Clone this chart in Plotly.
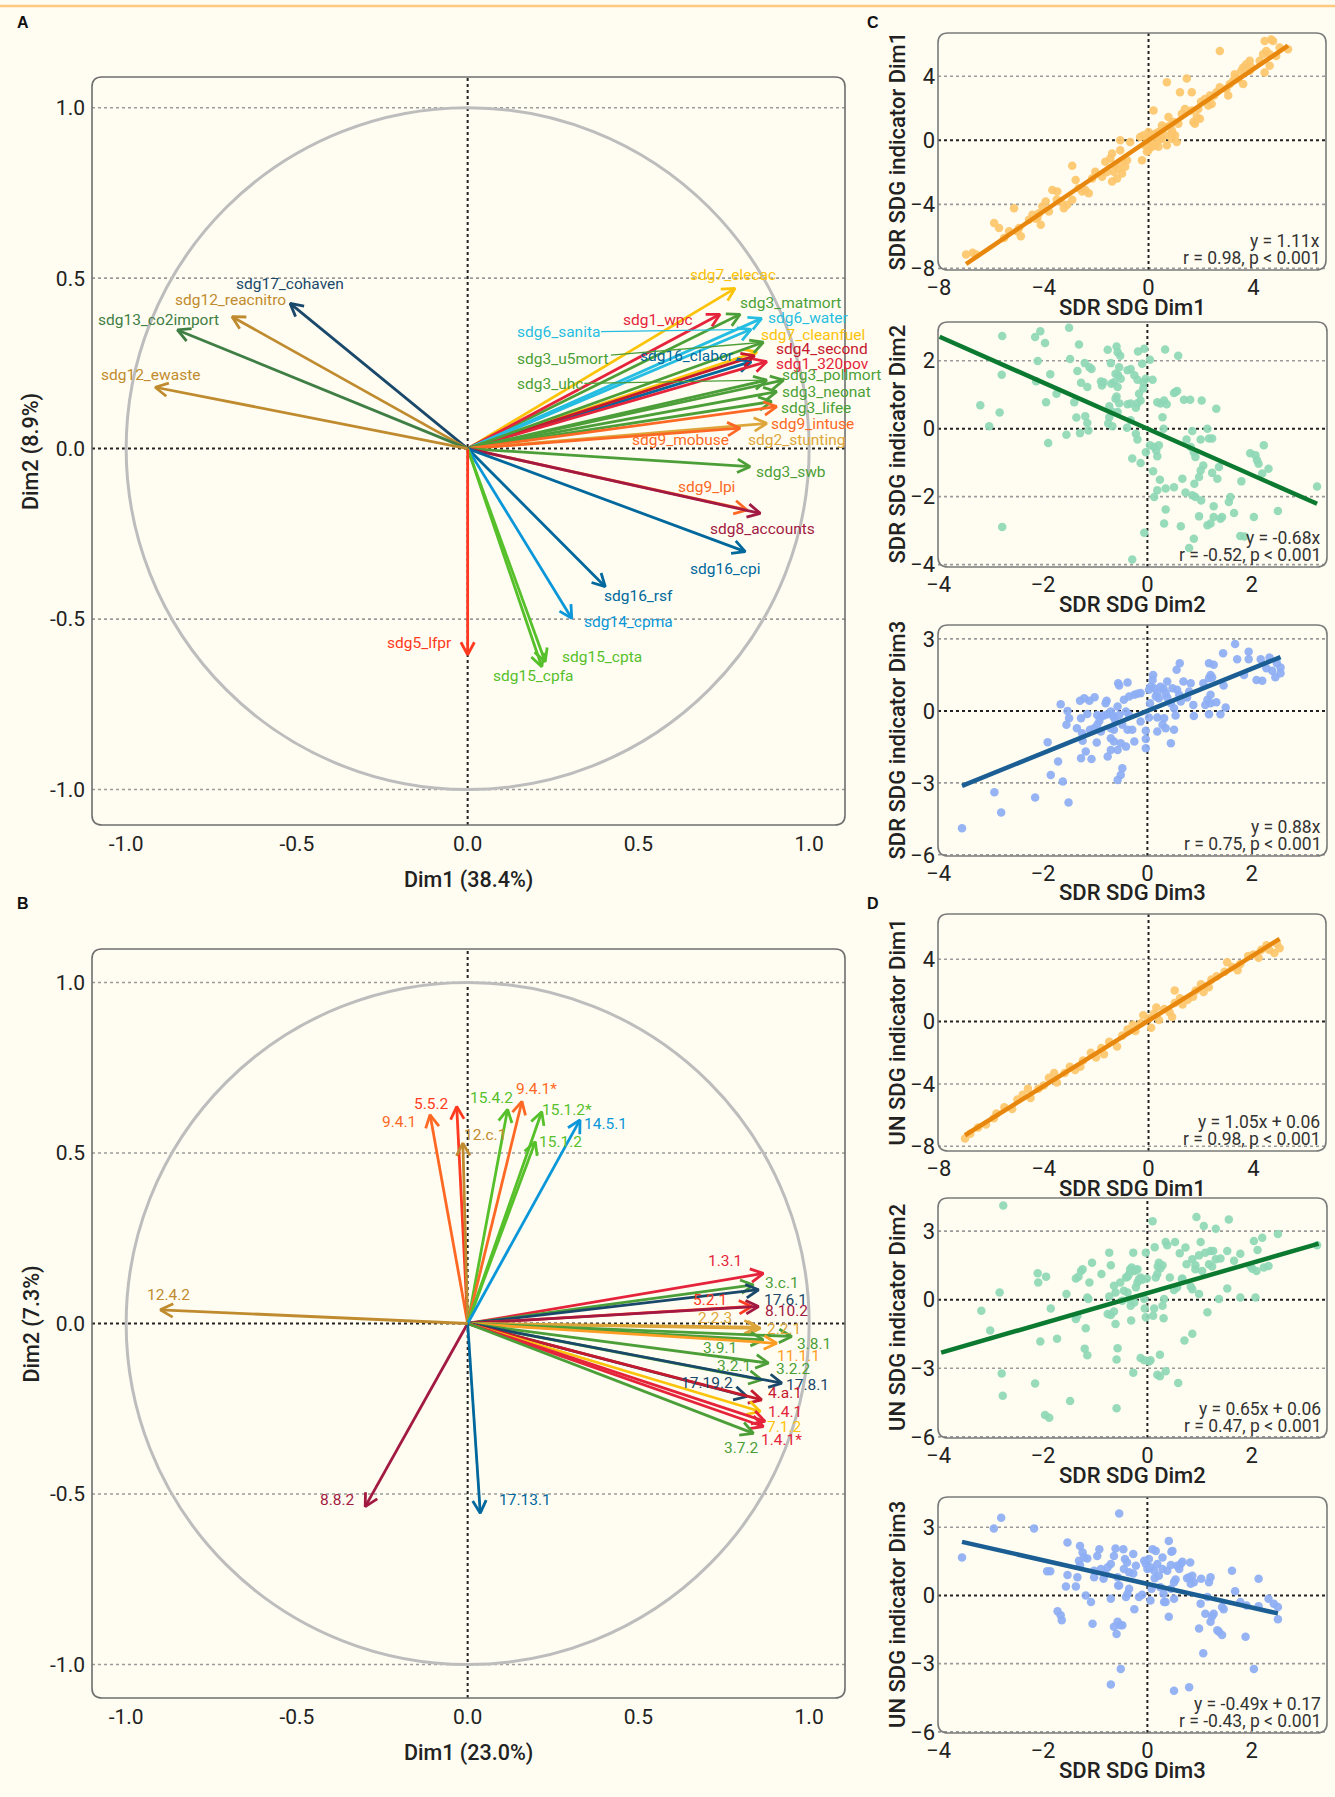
import numpy as np
import plotly.graph_objects as go

W, H = 1335, 1797
BG = "#FFFDF1"
FONT = "Roboto, 'Open Sans', sans-serif"

SDG_COLORS = {1: "#E5243B", 2: "#DDA63A", 3: "#4C9F38", 4: "#C5192D", 5: "#FF3A21",
              6: "#26BDE2", 7: "#FCC30B", 8: "#A21942", 9: "#FD6925", 11: "#FD9D24",
              12: "#BF8B2E", 13: "#3F7E44", 14: "#0A97D9", 15: "#56C02B", 16: "#00689D",
              17: "#19486A"}

# ---------------- Panel A: SDR indicators, correlation circle ----------------
a_names = ["sdg7_elecac", "sdg3_matmort", "sdg1_wpc", "sdg6_water", "sdg6_sanita",
           "sdg7_cleanfuel", "sdg16_clabor", "sdg4_second", "sdg1_320pov", "sdg3_u5mort",
           "sdg3_uhc", "sdg3_pollmort", "sdg3_neonat", "sdg3_lifee", "sdg9_intuse",
           "sdg2_stunting", "sdg9_mobuse", "sdg3_swb", "sdg9_lpi", "sdg8_accounts",
           "sdg16_cpi", "sdg16_rsf", "sdg14_cpma", "sdg15_cpta", "sdg15_cpfa",
           "sdg5_lfpr", "sdg17_cohaven", "sdg12_reacnitro", "sdg13_co2import", "sdg12_ewaste"]
a_dim1 = [0.783, 0.798, 0.739, 0.861, 0.830, 0.847, 0.830, 0.840, 0.876, 0.866,
          0.876, 0.925, 0.905, 0.890, 0.905, 0.876, 0.798, 0.827, 0.818, 0.857,
          0.813, 0.403, 0.305, 0.227, 0.217, 0.000, -0.520, -0.690, -0.850, -0.915]
a_dim2 = [0.470, 0.394, 0.394, 0.382, 0.350, 0.284, 0.255, 0.272, 0.255, 0.312,
          0.201, 0.201, 0.167, 0.138, 0.123, 0.074, 0.060, -0.053, -0.180, -0.190,
          -0.302, -0.405, -0.498, -0.625, -0.640, -0.605, 0.426, 0.387, 0.348, 0.180]
a_goal = [7, 3, 1, 6, 6, 7, 16, 4, 1, 3, 3, 3, 3, 3, 9, 2, 9, 3, 9, 8, 16, 16, 14, 15, 15,
          5, 17, 12, 13, 12]

# ---------------- Panel B: UN indicators, correlation circle ----------------
b_names = ["1.3.1", "3.c.1", "17.6.1", "5.2.1", "8.10.2", "2.2.3", "2.2.1", "3.8.1",
           "3.9.1", "11.1.1", "3.2.1", "3.2.2", "17.8.1", "17.19.2", "4.a.1", "7.1.2",
           "1.4.1", "1.4.1*", "3.7.2", "9.4.1", "5.5.2", "12.c.1", "15.4.2", "9.4.1*",
           "15.1.2*", "15.1.2", "14.5.1", "8.8.2", "17.13.1", "12.4.2"]
b_dim1 = [0.866, 0.837, 0.852, 0.832, 0.852, 0.847, 0.857, 0.949, 0.866, 0.905,
          0.881, 0.861, 0.920, 0.818, 0.861, 0.857, 0.871, 0.866, 0.837, -0.110,
          -0.032, -0.014, 0.117, 0.159, 0.217, 0.198, 0.329, -0.300, 0.037, -0.900]
b_dim2 = [0.147, 0.113, 0.099, 0.050, 0.050, -0.011, -0.014, -0.038, -0.048, -0.058,
          -0.116, -0.165, -0.175, -0.214, -0.224, -0.258, -0.287, -0.302, -0.322, 0.612,
          0.636, 0.529, 0.628, 0.651, 0.621, 0.533, 0.597, -0.537, -0.556, 0.040]
b_goal = [1, 3, 17, 5, 8, 2, 2, 3, 3, 11, 3, 3, 17, 17, 4, 7, 1, 1, 3, 9, 5, 12, 15, 9,
          15, 15, 14, 8, 16, 12]

# label placement: (dx px, dy px up, anchor) or ("leader", ax, ay)
a_label_pos = {
    "sdg7_elecac": (-2, 13, "center"), "sdg3_matmort": (-2, 11, "left"),
    "sdg1_wpc": (-25, -6, "right"), "sdg6_water": (4, 0, "left"),
    "sdg6_sanita": ("leader", -193, 3), "sdg7_cleanfuel": (2, 17, "left"),
    "sdg16_clabor": ("leader", -64, -6), "sdg4_second": (19, 7, "left"),
    "sdg1_320pov": (7, -2, "left"), "sdg3_u5mort": ("leader", -200, 17),
    "sdg3_uhc": ("leader", -217, 4), "sdg3_pollmort": (-4, 5, "left"),
    "sdg3_neonat": (3, 0, "left"), "sdg3_lifee": (7, -6, "left"),
    "sdg9_intuse": (-8, -17, "left"), "sdg2_stunting": (-21, -17, "left"),
    "sdg9_mobuse": (-9, -12, "right"), "sdg3_swb": (4, -5, "left"),
    "sdg9_lpi": (-40, 23, "center"), "sdg8_accounts": (2, -16, "center"),
    "sdg16_cpi": (-20, -17, "center"), "sdg16_rsf": (33, -9, "center"),
    "sdg14_cpma": (10, -4, "left"), "sdg15_cpta": (15, 5, "left"),
    "sdg15_cpfa": (-8, -9, "center"), "sdg5_lfpr": (-14, 12, "right"),
    "sdg17_cohaven": (0, 19, "center"), "sdg12_reacnitro": (-2, 17, "center"),
    "sdg13_co2import": (-19, 10, "center"), "sdg12_ewaste": (-5, 12, "center"),
}
b_label_pos = {
    "1.3.1": (-38, 12, "center"), "3.c.1": (10, 2, "left"), "17.6.1": (3, -10, "left"),
    "5.2.1": (-42, 6, "center"), "8.10.2": (4, -5, "left"), "2.2.3": (-42, 9, "center"),
    "2.2.1": (5, -1, "left"), "3.8.1": (3, -8, "left"), "3.9.1": (-43, -8, "center"),
    "11.1.1": (-2, -13, "left"), "3.2.1": (-35, -3, "center"), "3.2.2": (12, 11, "left"),
    "17.8.1": (2, -2, "left"), "17.19.2": (-40, 13, "center"), "4.a.1": (4, 7, "left"),
    "7.1.2": (5, -15, "left"), "1.4.1": (1, 9, "left"), "1.4.1*": (-4, -13, "left"),
    "3.7.2": (-12, -15, "center"), "9.4.1": (-12, -7, "right"), "5.5.2": (-6, 3, "right"),
    "12.c.1": (-1, 8, "left"), "15.4.2": (-16, 11, "center"), "9.4.1*": (15, 12, "center"),
    "15.1.2*": (-2, 2, "left"), "15.1.2": (2, 0, "left"), "14.5.1": (2, -4, "left"),
    "8.8.2": (-8, 7, "right"), "17.13.1": (17, 13, "left"), "12.4.2": (8, 15, "center"),
}

# ---------------- Panels C / D: scatter data ----------------
c1_points = [(4.43,6.20),(4.68,6.30),(4.75,6.20),(5.32,5.68),(5.00,5.79),(4.49,5.58),(4.37,5.37),(4.62,5.37),(4.87,5.27),(2.72,5.58),
 (4.24,4.96),(4.62,4.65),(4.43,4.24),(3.86,4.96),(3.73,4.75),(3.61,4.55),(3.54,4.34),(3.86,4.34),(3.29,4.13),(3.42,3.82),
 (3.23,3.72),(3.10,3.51),(3.61,3.51),(2.97,3.20),(2.72,3.31),(2.59,3.00),(3.04,2.79),(2.34,2.79),(2.15,2.58),(2.28,2.17),
 (2.41,2.27),(0.70,3.62),(1.46,3.86),(1.20,3.00),(1.65,3.00),(1.90,1.96),(1.65,1.86),(1.39,1.96),(1.27,1.65),(1.84,1.45),
 (1.96,1.34),(1.71,1.14),(1.77,1.03),(0.19,1.86),(0.76,1.45),(0.95,1.14),(1.14,1.03),(0.82,0.93),(0.63,0.83),(0.51,0.62),
 (0.38,0.52),(0.25,0.41),(0.13,0.31),(0.63,0.31),(0.89,0.41),(1.01,0.31),(1.08,-0.10),(0.89,0.10),(0.51,0.10),(0.38,0.00),
 (0.25,-0.31),(0.06,-0.10),(-0.06,0.10),(-0.19,0.31),(-0.32,0.21),(0.00,-0.62),(-0.25,-1.24),(-0.06,-0.72),(0.38,-0.41),(0.70,-0.31),
 (-1.08,0.00),(-0.70,-0.10),(-1.08,-0.62),(-1.39,-0.83),(-1.46,-1.14),(-1.65,-1.34),(-1.27,-1.55),(-1.33,-1.96),(-1.14,-1.76),(-1.01,-2.07),
 (-0.89,-1.65),(-0.82,-1.24),(-1.39,-2.58),(-1.20,-2.38),(-2.91,-1.59),(-2.78,-2.48),(-2.03,-1.96),(-1.77,-2.27),(-2.15,-2.38),(-2.66,-3.00),
 (-2.41,-3.10),(-2.53,-3.20),(-2.28,-3.31),(-2.91,-3.72),(-3.10,-4.03),(-3.23,-4.24),(-3.35,-3.82),(-3.67,-3.10),(-3.48,-3.20),(-3.92,-3.82),
 (-4.05,-4.13),(-3.80,-4.44),(-4.18,-4.55),(-4.24,-4.86),(-4.43,-4.65),(-4.56,-4.96),(-4.11,-5.27),(-5.13,-4.24),(-4.94,-5.48),(-4.87,-5.99),
 (-5.00,-5.68),(-5.32,-5.68),(-5.70,-5.48),(-5.89,-5.17),(-5.51,-6.10),(-6.71,-7.02),(-6.96,-7.13),(-6.58,-7.13),(-0.13,-0.31),(0.13,-0.41),
 (0.32,0.21),(0.00,0.52),(0.89,0.62),(0.51,0.93),(2.00,2.40),(2.50,2.80),(3.30,3.90),(3.90,4.60),(-1.00,-1.30),(-1.60,-2.00),
 (-3.50,-3.70),(-4.30,-4.90)]

c2_points = [(-1.50,2.97),(-2.05,2.87),(-2.15,2.70),(-1.96,2.52),(-2.78,2.73),(-1.31,2.48),(-2.10,1.99),(-1.48,2.05),(-2.79,1.59),(-1.86,1.60),
 (-2.13,1.40),(-1.74,1.03),(-1.94,0.78),(-3.20,0.69),(-2.83,0.48),(-3.03,0.07),(-1.90,-0.42),(-1.55,-0.18),(-1.36,0.33),(-1.19,0.37),
 (-1.15,0.17),(-1.13,-0.05),(-1.29,-0.13),(-1.40,0.78),(-1.20,1.93),(-1.11,1.81),(-1.07,1.76),(-1.34,1.70),(-1.27,1.35),(-1.15,1.23),
 (-0.89,1.39),(-0.87,1.27),(-0.84,1.37),(-0.76,2.32),(-0.59,2.42),(-0.57,2.25),(-0.52,2.15),(-0.70,1.93),(-0.54,1.81),(-0.38,1.72),
 (-0.32,1.76),(-0.25,1.57),(-0.19,1.44),(-0.56,1.57),(-0.61,1.62),(-0.64,1.37),(-0.69,1.32),(-0.57,1.23),(-0.51,1.47),(-0.59,0.95),
 (-0.54,0.75),(-0.38,0.72),(-0.32,0.74),(-0.22,0.62),(-0.19,0.75),(-0.13,0.83),(-0.16,1.03),(-0.08,1.18),(-0.08,1.37),(-0.03,1.47),
 (0.10,1.44),(-0.10,1.91),(0.05,2.03),(-0.18,2.27),(-0.06,2.35),(0.34,2.33),(0.59,2.15),(-0.61,0.88),(-0.73,0.66),(-0.67,0.49),
 (-0.57,0.49),(-0.73,0.34),(-0.75,0.15),(-0.67,0.07),(-0.39,0.03),(-0.32,0.25),(-0.22,-0.15),(-0.19,-0.32),(-0.29,-0.88),(-0.13,-1.01),
 (-0.03,-0.69),(0.05,-0.49),(0.13,-0.54),(0.17,-0.64),(0.22,-0.49),(0.19,-0.81),(0.11,-1.25),(0.24,-1.50),(0.19,-1.81),(0.13,-2.01),
 (0.35,-1.76),(0.51,-1.72),(0.54,1.08),(0.51,1.05),(0.57,1.11),(0.19,0.78),(0.25,0.74),(0.32,0.83),(0.37,0.72),(0.29,0.34),
 (0.31,0.00),(0.70,0.85),(0.82,0.85),(1.04,0.83),(1.32,0.59),(0.86,-0.07),(1.15,0.00),(1.02,-0.32),(1.18,-0.29),(1.24,-0.29),
 (0.75,-0.32),(0.83,-0.54),(0.89,-0.69),(0.92,-0.83),(1.07,-1.08),(1.02,-1.23),(0.99,-1.42),(1.24,-1.30),(1.34,-1.47),(1.37,-1.13),
 (0.67,-1.47),(0.73,-1.88),(0.86,-1.96),(0.92,-2.01),(1.03,-2.11),(0.90,-1.62),(1.27,-2.28),(1.59,-2.01),(1.56,-2.16),(1.66,-2.48),
 (1.27,-2.60),(1.21,-2.79),(1.40,-2.65),(1.43,-2.60),(1.15,-2.84),(0.99,-2.58),(0.64,-2.87),(0.32,-2.79),(0.35,-2.38),(0.89,-3.24),
 (0.80,-3.51),(-0.06,-3.06),(-0.29,-3.85),(1.80,-1.55),(1.97,-0.72),(2.07,-0.78),(2.10,-0.93),(2.13,-1.03),(2.23,-0.49),(2.32,-1.18),
 (2.20,-1.32),(2.04,-2.60),(2.50,-2.42),(3.25,-1.70),(1.78,-3.16),(1.86,-3.17),(-2.78,-2.89)]

c3_points = [(-3.55,-4.89),(-2.93,-3.39),(-2.80,-4.24),(-2.15,-3.61),(-1.51,-3.82),(-1.62,-2.94),(-1.85,-2.67),(-1.71,-2.11),(-1.91,-1.31),(-1.66,0.28),
 (-1.53,0.00),(-1.55,-0.58),(-1.50,-0.31),(-1.35,-0.72),(-1.29,0.42),(-1.21,0.53),(-1.11,0.42),(-1.01,0.57),(-1.25,-0.93),(-1.24,-1.25),
 (-1.18,-1.69),(-1.27,-1.97),(-1.07,-2.01),(-0.97,-1.32),(-1.15,-0.13),(-1.27,-0.31),(-1.10,-0.79),(-1.02,-0.72),(-0.96,-0.17),(-0.89,-0.24),
 (-0.83,-0.19),(-0.92,-0.42),(-0.96,-0.58),(-0.89,-0.86),(-0.78,0.42),(-0.80,0.32),(-0.70,-0.03),(-0.76,-0.14),(-0.67,-0.17),(-0.57,0.18),
 (-0.64,-0.28),(-0.54,-0.17),(-0.61,-0.44),(-0.70,-0.72),(-0.64,-0.79),(-0.48,-0.58),(-0.38,-0.79),(-0.29,-0.79),(-0.35,-0.17),(-0.41,-0.03),
 (-0.45,0.46),(-0.35,0.60),(-0.25,0.67),(-0.19,0.71),(-0.13,0.74),(-0.54,1.06),(-0.56,1.15),(-0.38,1.18),(-0.70,-1.14),(-0.64,-1.28),
 (-0.57,-1.63),(-0.70,-1.63),(-0.76,-1.90),(-0.51,-1.35),(-0.41,-1.49),(-0.25,-1.28),(-0.48,-2.39),(-0.51,-2.67),(-0.57,-2.88),(-0.13,-0.44),
 (-0.03,-0.83),(-0.03,-1.17),(-0.03,-1.56),(0.05,0.32),(0.03,-0.28),(0.11,1.50),(0.10,1.29),(0.06,1.01),(0.13,0.94),(0.03,0.88),
 (0.19,0.74),(0.22,0.53),(0.16,0.60),(0.25,1.01),(0.31,0.92),(0.38,1.22),(0.35,0.74),(0.38,0.56),(0.45,0.32),(0.51,0.11),
 (0.54,-0.19),(0.51,-0.79),(0.35,-0.72),(0.29,-0.58),(0.32,-0.31),(0.19,-0.28),(0.19,-0.86),(0.45,-1.35),(0.56,1.71),(0.62,1.99),
 (0.69,1.22),(0.57,0.88),(0.61,0.67),(0.48,0.94),(0.64,0.39),(0.83,1.15),(0.80,0.81),(0.76,0.56),(0.88,0.25),(0.89,-0.21),
 (1.07,1.15),(1.18,1.99),(1.27,1.92),(1.21,1.50),(1.18,1.36),(1.24,1.39),(1.21,0.67),(1.15,0.46),(1.11,0.25),(1.21,0.32),
 (1.32,0.36),(1.18,-0.14),(1.40,-0.14),(1.50,0.14),(1.46,1.06),(1.45,2.40),(1.68,2.79),(1.72,2.15),(1.94,2.47),(1.94,2.15),
 (1.85,1.50),(2.09,1.29),(2.20,1.26),(2.17,2.15),(2.28,1.78),(2.39,1.67),(2.45,1.40),(2.55,1.81),(2.55,1.57),(2.34,2.22),
 (2.48,1.99)]

d1_points = [(-7.00,-7.50),(-6.80,-7.20),(-6.50,-6.80),(-6.20,-6.60),(-5.80,-5.90),(-5.50,-5.50),(-5.20,-5.60),(-5.00,-5.00),(-4.80,-4.70),(-4.50,-4.90),
 (-4.20,-4.30),(-4.00,-4.10),(-3.80,-3.60),(-3.50,-3.90),(-3.20,-3.30),(-3.00,-2.90),(-2.80,-3.10),(-2.50,-2.50),(-2.20,-2.00),(-2.00,-2.30),
 (-1.80,-1.70),(-1.50,-1.30),(-1.20,-1.60),(-1.00,-0.90),(-0.80,-0.50),(-0.50,-0.60),(-0.30,-0.10),(0.00,0.20),(0.20,0.50),(0.40,0.10),
 (0.60,0.80),(0.80,0.60),(1.00,1.20),(1.20,1.50),(1.50,1.40),(1.80,2.00),(2.00,2.40),(2.30,2.20),(2.60,2.90),(2.90,3.20),
 (3.20,3.50),(3.50,3.70),(3.80,4.20),(4.00,4.30),(4.30,4.60),(4.50,4.90),(4.80,4.40),(5.00,4.70),(3.00,3.80),(1.00,2.00),
 (-5.90,-6.20),(-4.60,-4.30),(-3.60,-3.30),(-2.60,-2.90),(-1.70,-2.10),(-0.60,-0.20),(0.30,0.90),(0.90,0.30),(1.70,1.60),(2.40,2.70),
 (3.40,3.30),(4.20,4.10),(4.60,4.60),(4.90,5.00),(0.10,-0.40),(-0.20,0.40),(1.30,1.10),(2.10,1.90)]

d2_points = [(-2.76,4.12),(-3.18,-0.48),(-2.83,0.32),(-3.01,-1.35),(-2.79,-3.23),(-2.77,-4.20),(-2.15,-3.67),(-2.05,-1.83),(-1.96,-5.04),(-1.88,-5.16),
 (-2.10,1.16),(-2.09,0.75),(-1.94,1.01),(-1.85,-0.38),(-1.73,-1.71),(-1.55,0.25),(-1.48,-4.43),(-1.37,-0.84),(-1.34,-0.70),(-1.37,0.93),
 (-1.32,1.01),(-1.27,1.26),(-1.24,1.33),(-1.18,-1.25),(-1.20,-2.14),(-1.15,-2.43),(-1.13,0.03),(-1.15,0.10),(-1.11,0.75),(-1.06,1.62),
 (-0.88,1.12),(-0.73,2.06),(-0.70,1.51),(-0.73,0.14),(-0.76,-0.62),(-0.70,-0.67),(-0.64,0.61),(-0.61,0.32),(-0.64,-0.52),(-0.61,-1.06),
 (-0.57,-2.12),(-0.59,-2.62),(-0.59,-4.75),(-0.52,0.75),(-0.45,0.39),(-0.48,-0.04),(-0.41,0.97),(-0.38,1.01),(-0.35,1.12),(-0.33,1.33),
 (-0.30,1.41),(-0.27,2.06),(-0.25,1.26),(-0.22,1.30),(-0.19,1.33),(-0.38,0.32),(-0.35,0.03),(-0.32,-0.26),(-0.31,-0.91),(-0.27,-3.19),
 (-0.25,-0.12),(-0.22,0.54),(-0.19,0.75),(-0.16,0.90),(-0.13,0.97),(-0.10,0.87),(-0.06,0.03),(-0.05,-0.38),(-0.03,2.06),(-0.01,0.93),
 (-0.03,-0.77),(-0.13,-2.55),(-0.06,-2.65),(0.03,-2.70),(0.06,-2.65),(0.10,3.43),(0.11,-0.70),(0.14,2.30),(0.13,-0.38),(0.16,0.97),
 (0.19,1.12),(0.20,1.45),(0.22,1.62),(0.25,1.38),(0.29,1.51),(0.32,0.03),(0.29,-0.26),(0.31,-0.81),(0.24,-2.41),(0.19,-3.28),
 (0.24,-3.35),(0.35,-3.13),(0.35,2.52),(0.38,2.38),(0.43,0.97),(0.51,0.43),(0.53,2.52),(0.57,0.54),(0.59,-3.64),(0.66,0.90),
 (0.67,0.93),(0.62,2.03),(0.73,2.28),(0.71,-1.78),(0.75,1.55),(0.83,0.58),(0.86,0.46),(0.86,-1.49),(0.86,1.77),(0.92,1.51),
 (0.92,1.33),(0.94,3.62),(0.99,1.94),(0.99,0.25),(1.02,2.52),(1.05,1.26),(1.08,3.22),(1.11,2.06),(1.15,-0.55),(1.18,1.55),
 (1.21,2.13),(1.24,1.45),(1.26,2.13),(1.31,3.10),(1.31,1.77),(1.37,0.03),(1.40,1.80),(1.53,2.13),(1.56,3.51),(1.53,0.49),
 (1.66,1.70),(1.78,2.01),(1.78,0.10),(1.97,1.48),(2.01,1.36),(2.04,2.57),(2.07,0.10),(2.09,1.26),(2.11,2.17),(2.20,2.71),
 (2.23,1.41),(2.32,1.48),(2.50,2.88),(3.25,2.38)]

d3_points = [(-3.55,1.67),(-2.94,2.94),(-2.80,3.42),(-2.17,2.95),(-1.92,1.06),(-1.86,1.06),(-1.72,-0.70),(-1.66,-0.87),(-1.64,-1.09),(-1.53,2.33),
 (-1.53,0.90),(-1.56,0.39),(-1.37,0.39),(-1.34,0.80),(-1.29,2.18),(-1.24,1.89),(-1.31,1.53),(-1.29,1.34),(-1.21,1.67),(-1.15,1.63),
 (-1.18,0.00),(-1.08,-0.29),(-1.05,-1.24),(-1.02,0.80),(-1.02,1.09),(-0.96,1.74),(-0.92,2.03),(-0.89,1.16),(-0.84,0.73),(-0.80,0.94),
 (-0.76,1.24),(-0.70,1.38),(-0.70,-0.15),(-0.64,1.74),(-0.61,2.06),(-0.57,0.80),(-0.54,0.44),(-0.64,-1.38),(-0.57,-1.16),(-0.52,-1.31),
 (-0.48,-1.31),(-0.59,-1.70),(-0.56,0.44),(-0.51,-3.23),(-0.70,-3.92),(-0.54,3.60),(-0.46,2.03),(-0.43,1.60),(-0.39,1.45),(-0.35,0.29),
 (-0.38,0.07),(-0.41,-0.07),(-0.45,1.16),(-0.35,1.02),(-0.27,1.82),(-0.27,0.97),(-0.25,-0.61),(-0.22,1.31),(-0.16,-0.07),(-0.10,0.03),
 (-0.06,1.53),(-0.03,1.38),(0.00,1.16),(0.03,1.60),(0.06,1.24),(0.10,2.03),(0.13,1.09),(0.14,0.76),(0.06,-0.22),(0.08,0.29),
 (0.16,1.96),(0.19,1.38),(0.22,0.87),(0.25,0.36),(0.29,1.16),(0.29,1.67),(0.31,0.07),(0.32,-0.29),(0.35,-0.29),(0.38,1.09),
 (0.41,2.40),(0.41,-0.94),(0.45,1.34),(0.46,1.92),(0.48,1.96),(0.45,0.29),(0.51,0.58),(0.51,-0.15),(0.54,0.70),(0.57,1.31),
 (0.61,1.16),(0.64,1.38),(0.67,1.48),(0.51,-4.19),(0.76,0.76),(0.80,0.80),(0.82,1.45),(0.83,0.51),(0.86,0.87),(0.89,0.58),
 (0.99,-1.45),(1.02,-0.36),(1.03,0.73),(1.07,-2.54),(1.11,-0.80),(1.15,-0.07),(1.18,0.58),(1.21,0.80),(1.24,-0.92),(1.21,-1.16),
 (1.27,-0.80),(1.34,-1.53),(1.37,-1.60),(1.43,-1.74),(1.43,-0.51),(1.46,-0.61),(1.62,1.09),(1.68,0.19),(1.78,-0.29),(1.88,-1.82),
 (1.90,-0.44),(2.04,-3.23),(2.13,0.73),(2.13,-0.47),(2.32,-0.15),(2.42,-0.36),(2.50,-0.51),(2.50,-1.05),(0.80,-4.04)]

# fitted lines as drawn (slope, intercept) and the x-extent they span
fit_slope = {"c1": 1.11, "c2": -0.68, "c3": 0.88, "d1": 1.05, "d2": 0.66, "d3": -0.52}
fit_intercept = {"c1": 0.0, "c2": 0.0, "c3": 0.0, "d1": 0.06, "d2": 0.29, "d3": 0.51}
fit_xspan = {"c2": (-3.98, 3.25), "d2": (-3.95, 3.28)}
fit_eq = {"c1": "y = 1.11x", "c2": "y = -0.68x", "c3": "y = 0.88x",
          "d1": "y = 1.05x + 0.06", "d2": "y = 0.65x + 0.06", "d3": "y = -0.49x + 0.17"}
fit_stat = {"c1": "r = 0.98, p < 0.001", "c2": "r = -0.52, p < 0.001",
            "c3": "r = 0.75, p < 0.001", "d1": "r = 0.98, p < 0.001",
            "d2": "r = 0.47, p < 0.001", "d3": "r = -0.43, p < 0.001"}

# ---------------- figure ----------------
fig = go.Figure()
layout = dict(width=W, height=H, margin=dict(l=0, r=0, t=0, b=0, autoexpand=False),
              paper_bgcolor=BG, plot_bgcolor=BG, showlegend=False, autosize=False,
              font=dict(family=FONT, color="#222"))
shapes, annotations = [], []
LABEL_SIZE = 15.5


def px_x(p):
    return p / W


def px_y(p):
    return 1 - p / H


def rounded_box(l, t, r, b, rad=9, color="#7a7a7a", width=1.6):
    x0, x1 = px_x(l), px_x(r)
    y0, y1 = px_y(b), px_y(t)
    rx, ry = rad / W, rad / H
    path = (f"M {x0+rx},{y1} L {x1-rx},{y1} Q {x1},{y1} {x1},{y1-ry} L {x1},{y0+ry} "
            f"Q {x1},{y0} {x1-rx},{y0} L {x0+rx},{y0} Q {x0},{y0} {x0},{y0+ry} "
            f"L {x0},{y1-ry} Q {x0},{y1} {x0+rx},{y1} Z")
    shapes.append(dict(type="path", path=path, xref="paper", yref="paper",
                       line=dict(color=color, width=width), layer="above"))


def zero_and_grid(ax, yvals):
    xa, ya = "x" + ax, "y" + ax
    for v in yvals:
        if v == 0:
            continue
        shapes.append(dict(type="line", xref=xa + " domain", yref=ya, x0=0, x1=1, y0=v, y1=v,
                           line=dict(color="#9a9a9a", width=1.6, dash="dot"), layer="below"))
    shapes.append(dict(type="line", xref=xa + " domain", yref=ya, x0=0, x1=1, y0=0, y1=0,
                       line=dict(color="#222", width=2, dash="dot"), layer="below"))
    shapes.append(dict(type="line", xref=xa, yref=ya + " domain", x0=0, x1=0, y0=0, y1=1,
                       line=dict(color="#222", width=2, dash="dot"), layer="below"))


def arrow_trace(tx, ty, color, xa, ya, L=0.042, ang=np.deg2rad(28)):
    th = np.arctan2(ty, tx)
    h1 = (tx - L * np.cos(th - ang), ty - L * np.sin(th - ang))
    h2 = (tx - L * np.cos(th + ang), ty - L * np.sin(th + ang))
    return go.Scatter(x=[0, tx, None, h1[0], tx, h2[0]], y=[0, ty, None, h1[1], ty, h2[1]],
                      mode="lines", line=dict(color=color, width=2.8), xaxis=xa, yaxis=ya,
                      hoverinfo="skip")


circ_ticks = [-1.0, -0.5, 0.0, 0.5, 1.0]
circ_text = ["-1.0", "-0.5", "0.0", "0.5", "1.0"]

circle_panels = [
    dict(ax="", names=a_names, d1=a_dim1, d2=a_dim2, goal=a_goal, lab=a_label_pos,
         box=(92, 77, 845, 825), yr=[-1.104, 1.09], xt="Dim1 (38.4%)", yt="Dim2 (8.9%)"),
    dict(ax="2", names=b_names, d1=b_dim1, d2=b_dim2, goal=b_goal, lab=b_label_pos,
         box=(92, 949, 845, 1698), yr=[-1.098, 1.098], xt="Dim1 (23.0%)", yt="Dim2 (7.3%)"),
]

for p in circle_panels:
    ax = p["ax"]
    l, t, r, b = p["box"]
    layout["xaxis" + ax] = dict(domain=[px_x(l), px_x(r)], range=[-1.1, 1.105],
                                tickvals=circ_ticks, ticktext=circ_text, showgrid=False,
                                zeroline=False, showline=False, ticks="", automargin=False,
                                tickfont=dict(size=21, color="#222"), ticklabelstandoff=4,
                                anchor="y" + ax)
    layout["yaxis" + ax] = dict(domain=[px_y(b), px_y(t)], range=p["yr"],
                                tickvals=circ_ticks, ticktext=circ_text, showgrid=False,
                                zeroline=False, showline=False, ticks="", automargin=False,
                                tickfont=dict(size=21, color="#222"), ticklabelstandoff=6,
                                anchor="x" + ax)
    zero_and_grid(ax, circ_ticks)
    shapes.append(dict(type="circle", xref="x" + ax, yref="y" + ax, x0=-1, y0=-1, x1=1, y1=1,
                       line=dict(color="#BDBDBD", width=3), layer="below"))
    rounded_box(l, t, r, b, rad=10, color="#6e6e6e", width=1.6)
    for name, x, y, g in zip(p["names"], p["d1"], p["d2"], p["goal"]):
        col = SDG_COLORS[g]
        fig.add_trace(arrow_trace(x, y, col, "x" + ax, "y" + ax))
        pos = p["lab"][name]
        if pos[0] == "leader":
            annotations.append(dict(x=x, y=y, xref="x" + ax, yref="y" + ax, text=name,
                                    showarrow=True, ax=pos[1], ay=pos[2], arrowhead=0,
                                    arrowwidth=1.3, arrowcolor=col, standoff=0,
                                    font=dict(size=LABEL_SIZE, color=col)))
        else:
            dx, dy, anc = pos
            annotations.append(dict(x=x, y=y, xref="x" + ax, yref="y" + ax, text=name,
                                    showarrow=False, xanchor=anc, yanchor="middle",
                                    xshift=dx, yshift=dy, font=dict(size=LABEL_SIZE, color=col)))
    annotations.append(dict(x=px_x((l + r) / 2), y=px_y(b + 55), xref="paper", yref="paper",
                            text=p["xt"], showarrow=False, xanchor="center", yanchor="middle",
                            font=dict(size=21.5, color="#222", weight=500)))
    annotations.append(dict(x=px_x(31), y=px_y((t + b) / 2), xref="paper", yref="paper",
                            text=p["yt"], showarrow=False, textangle=-90, xanchor="center",
                            yanchor="middle", font=dict(size=21.5, color="#222", weight=500)))

ORANGE_PT, ORANGE_LN = "#FDC66B", "#E8870E"
GREEN_PT, GREEN_LN = "#8ED8B6", "#0B7A30"
BLUE_PT, BLUE_LN = "#8DAEF4", "#1B5E94"

scatter_panels = [
    dict(key="c1", ax="3", pts=c1_points, pc=ORANGE_PT, lc=ORANGE_LN, box=(938, 33, 1326, 270),
         xr=[-8.03, 6.77], yr=[-8.1, 6.7], xt=[-8, -4, 0, 4], yt=[-8, -4, 0, 4],
         xl="SDR SDG Dim1", yl="SDR SDG indicator Dim1"),
    dict(key="c2", ax="4", pts=c2_points, pc=GREEN_PT, lc=GREEN_LN, box=(938, 322, 1327, 567),
         xr=[-4.01, 3.44], yr=[-4.07, 3.14], xt=[-4, -2, 0, 2], yt=[-4, -2, 0, 2],
         xl="SDR SDG Dim2", yl="SDR SDG indicator Dim2"),
    dict(key="c3", ax="5", pts=c3_points, pc=BLUE_PT, lc=BLUE_LN, box=(938, 625, 1327, 856),
         xr=[-4.01, 3.44], yr=[-6.05, 3.58], xt=[-4, -2, 0, 2], yt=[-6, -3, 0, 3],
         xl="SDR SDG Dim3", yl="SDR SDG indicator Dim3"),
    dict(key="d1", ax="6", pts=d1_points, pc=ORANGE_PT, lc=ORANGE_LN, box=(938, 914, 1326, 1151),
         xr=[-8.03, 6.77], yr=[-8.3, 6.9], xt=[-8, -4, 0, 4], yt=[-8, -4, 0, 4],
         xl="SDR SDG Dim1", yl="UN SDG indicator Dim1"),
    dict(key="d2", ax="7", pts=d2_points, pc=GREEN_PT, lc=GREEN_LN, box=(938, 1198, 1327, 1438),
         xr=[-4.01, 3.44], yr=[-6.05, 4.45], xt=[-4, -2, 0, 2], yt=[-6, -3, 0, 3],
         xl="SDR SDG Dim2", yl="UN SDG indicator Dim2"),
    dict(key="d3", ax="8", pts=d3_points, pc=BLUE_PT, lc=BLUE_LN, box=(938, 1497, 1327, 1733),
         xr=[-4.01, 3.44], yr=[-6.05, 4.33], xt=[-4, -2, 0, 2], yt=[-6, -3, 0, 3],
         xl="SDR SDG Dim3", yl="UN SDG indicator Dim3"),
]

for p in scatter_panels:
    ax = p["ax"]
    l, t, r, b = p["box"]
    layout["xaxis" + ax] = dict(domain=[px_x(l), px_x(r)], range=p["xr"], tickvals=p["xt"],
                                showgrid=False, zeroline=False, showline=False, ticks="",
                                automargin=False, ticklabelstandoff=2,
                                tickfont=dict(size=22, color="#222"), anchor="y" + ax)
    layout["yaxis" + ax] = dict(domain=[px_y(b), px_y(t)], range=p["yr"], tickvals=p["yt"],
                                showgrid=False, zeroline=False, showline=False, ticks="",
                                automargin=False, ticklabelstandoff=2,
                                tickfont=dict(size=22, color="#222"), anchor="x" + ax)
    zero_and_grid(ax, p["yt"])
    rounded_box(l, t, r, b, rad=10, color="#7a7a7a", width=1.6)
    xs = [q[0] for q in p["pts"]]
    ys = [q[1] for q in p["pts"]]
    fig.add_trace(go.Scatter(x=xs, y=ys, mode="markers", xaxis="x" + ax, yaxis="y" + ax,
                             marker=dict(size=8.5, color=p["pc"], opacity=0.92, line=dict(width=0)),
                             hoverinfo="skip"))
    k = p["key"]
    x0, x1 = fit_xspan.get(k, (min(xs), max(xs)))
    lx = np.array([x0, x1])
    ly = fit_slope[k] * lx + fit_intercept[k]
    fig.add_trace(go.Scatter(x=lx, y=ly, mode="lines", xaxis="x" + ax, yaxis="y" + ax,
                             line=dict(color=p["lc"], width=4.5), hoverinfo="skip"))
    annotations.append(dict(x=px_x(r - 4), y=px_y(b - 29), xref="paper", yref="paper",
                            text=fit_eq[k], showarrow=False, xanchor="right", yanchor="middle",
                            font=dict(size=17.5, color="#333")))
    annotations.append(dict(x=px_x(r - 4), y=px_y(b - 12), xref="paper", yref="paper",
                            text=fit_stat[k], showarrow=False, xanchor="right", yanchor="middle",
                            font=dict(size=17.5, color="#333")))
    annotations.append(dict(x=px_x((l + r) / 2), y=px_y(b + 37), xref="paper", yref="paper",
                            text=p["xl"], showarrow=False, xanchor="center", yanchor="middle",
                            font=dict(size=22, color="#222", weight=500)))
    annotations.append(dict(x=px_x(897), y=px_y((t + b) / 2), xref="paper", yref="paper",
                            text=p["yl"], showarrow=False, textangle=-90, xanchor="center",
                            yanchor="middle", font=dict(size=22, color="#222", weight=500)))

# panel letters and top rule
for letter, (lx_, ly_) in {"A": (23, 23), "B": (23, 903), "C": (873, 23), "D": (873, 903)}.items():
    annotations.append(dict(x=px_x(lx_), y=px_y(ly_), xref="paper", yref="paper", text=f"<b>{letter}</b>",
                            showarrow=False, xanchor="center", yanchor="middle",
                            font=dict(size=16, color="#111",
                                      family="'Liberation Sans Narrow', 'Liberation Sans', sans-serif")))
shapes.append(dict(type="line", xref="paper", yref="paper", x0=0, x1=1, y0=px_y(6), y1=px_y(6),
                   line=dict(color="#FFC97E", width=2.5)))

layout["shapes"] = shapes
layout["annotations"] = annotations
fig.update_layout(**layout)

page_fix = ("var h=document.documentElement, b=document.body;"
            "h.style.margin='0';h.style.padding='0';h.style.overflow='hidden';"
            "b.style.margin='0';b.style.padding='0';b.style.overflow='hidden';"
            "b.style.background='" + BG + "';"
            "var gd=document.getElementById('{plot_id}');"
            "gd.style.position='fixed';gd.style.left='0px';gd.style.top='0px';")
fig.write_html("out.html", config={"displayModeBar": False, "responsive": False},
               post_script=page_fix)
